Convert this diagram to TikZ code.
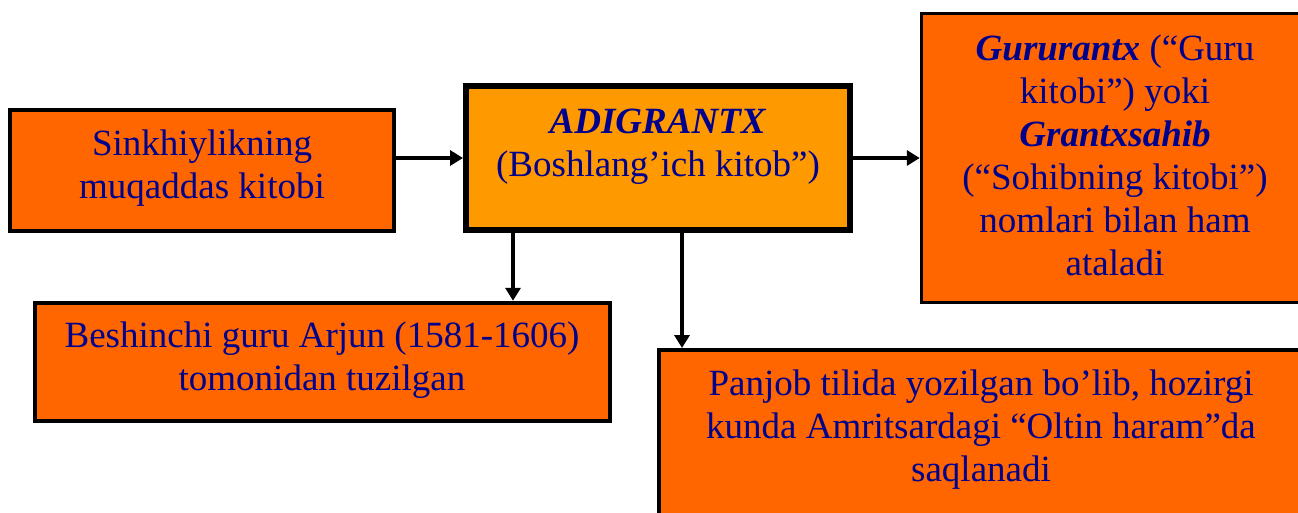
\documentclass[tikz,border=0pt]{standalone}
\usepackage{fontspec}
\setmainfont{Liberation Serif}
\usetikzlibrary{arrows.meta}
\definecolor{boxorange}{HTML}{FF6600}
\definecolor{lightorange}{HTML}{FF9900}
\definecolor{navytext}{RGB}{0,0,140}
\begin{document}
\begin{tikzpicture}[x=1pt,y=-1pt,
  box/.style={draw=black, fill=boxorange, line width=4pt, inner sep=0pt, minimum width=#1},
  box/.default=100pt,
  txt/.style={text=navytext, align=center, inner sep=0pt, font=\fontsize{37}{43}\selectfont},
  arr/.style={draw=black, line width=3.3pt, -{Triangle[length=13pt,width=15pt]}}]
\clip (0,0) rectangle (1298,513);
\fill[white] (0,0) rectangle (1298,513);
% boxes
\node[box=384pt, minimum height=121pt] (b1) at (202,170.5) {};
\node[box=384pt, minimum height=144pt, fill=lightorange, line width=6pt] (b2) at (658,158) {};
\node[box=388.5pt, minimum height=289pt, line width=3.5pt] (b3) at (1115.75,158) {};
\node[box=575pt, minimum height=118.5pt] (b4) at (322.5,362) {};
\node[box=651pt, minimum height=180pt] (b5) at (984.5,440) {};
% texts
\node[txt] (t1) at (202,168) {Sinkhiylikning\\muqaddas kitobi};
\node[txt] (t2) at (658,147) {\textbf{\textit{ADIGRANTX}}\\(Boshlang’ich kitob”)};
\node[txt] (t3) at (1115,155) {\textbf{\textit{Gururantx}} (“Guru\\kitobi”) yoki\\\textbf{\textit{Grantxsahib}}\\(“Sohibning kitobi”)\\nomlari bilan ham\\ataladi};
\node[txt] (t4) at (322,360.5) {Beshinchi guru Arjun (1581-1606)\\tomonidan tuzilgan};
\node[txt] (t5) at (981,430) {Panjob tilida yozilgan bo’lib, hozirgi\\kunda Amritsardagi “Oltin haram”da\\saqlanadi};
% connectors
\coordinate (c4) at (513,0);
\coordinate (c5) at (682,0);
\draw[arr] (b1.east |- b2.center) -- (b2.west);
\draw[arr] (b2.east) -- (b3.west);
\draw[arr] (b2.south -| c4) -- (b4.north -| c4);
\draw[arr] (b2.south -| c5) -- (b5.north -| c5);
\end{tikzpicture}
\end{document}
